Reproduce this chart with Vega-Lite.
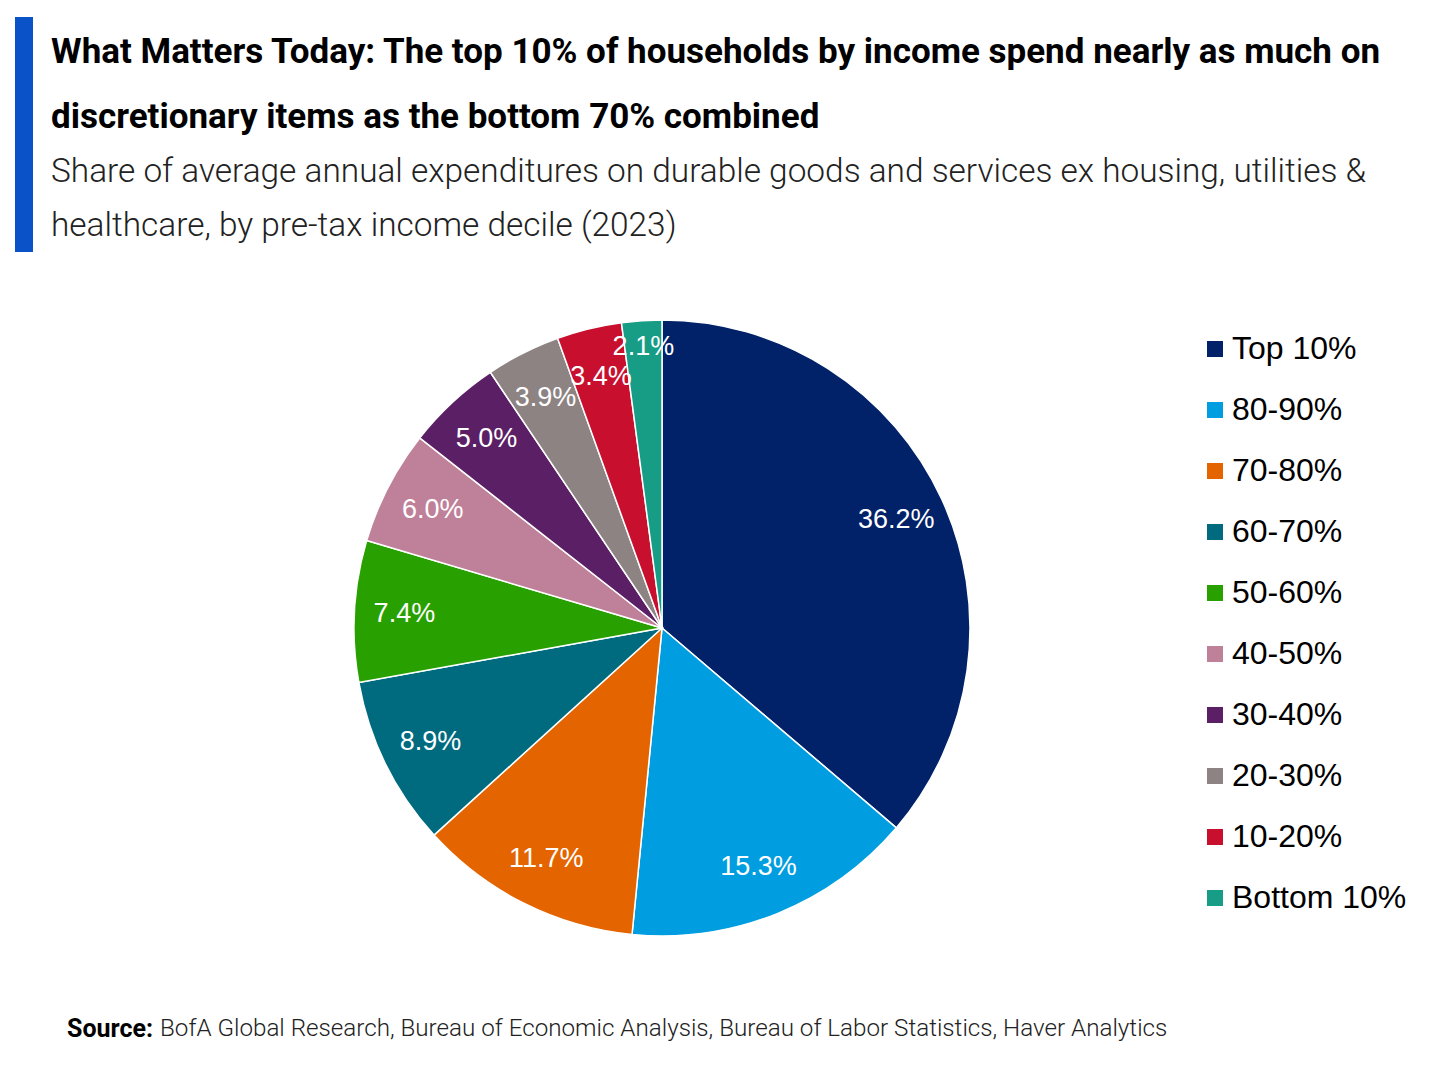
{
  "$schema": "https://vega.github.io/schema/vega-lite/v6.json",
  "background": "white",
  "padding": {"left": 15, "top": 11, "right": 0, "bottom": 0},
  "spacing": 0,
  "datasets": {
    "deciles": [
      {"decile": "Top 10%", "share": 0.362},
      {"decile": "80-90%", "share": 0.153},
      {"decile": "70-80%", "share": 0.117},
      {"decile": "60-70%", "share": 0.089},
      {"decile": "50-60%", "share": 0.074},
      {"decile": "40-50%", "share": 0.060},
      {"decile": "30-40%", "share": 0.050},
      {"decile": "20-30%", "share": 0.039},
      {"decile": "10-20%", "share": 0.034},
      {"decile": "Bottom 10%", "share": 0.021}
    ],
    "blank": [{"k": 1}]
  },
  "vconcat": [
    {
      "spacing": 18,
      "hconcat": [
        {
          "width": 18,
          "height": 235,
          "view": {"fill": "#0a52c8", "stroke": null},
          "data": {"name": "blank"},
          "mark": "text",
          "encoding": {"text": {"value": ""}}
        },
        {
          "width": 1340,
          "height": 1,
          "title": {
            "text": ["What Matters Today: The top 10% of households by income spend nearly as much on", "discretionary items as the bottom 70% combined"],
            "subtitle": ["Share of average annual expenditures on durable goods and services ex housing, utilities &", "healthcare, by pre-tax income decile (2023)"],
            "orient": "bottom",
            "anchor": "start",
            "font": "Roboto",
            "fontSize": 35,
            "fontWeight": "bold",
            "color": "#000000",
            "lineHeight": 65,
            "subtitleFont": "Roboto",
            "subtitleFontSize": 33.4,
            "subtitleFontWeight": 300,
            "subtitleColor": "#222222",
            "subtitleLineHeight": 54,
            "subtitlePadding": 21,
            "offset": 12
          },
          "data": {"name": "blank"},
          "mark": "text",
          "encoding": {"text": {"value": ""}}
        }
      ]
    },
    {
      "spacing": 12,
      "vconcat": [
        {
          "width": 1294,
          "height": 752,
          "data": {"name": "deciles"},
          "encoding": {
            "theta": {"field": "share", "type": "quantitative", "stack": true},
            "order": {"field": "share", "sort": "descending"},
            "color": {
              "field": "decile",
              "type": "nominal",
              "sort": null,
              "scale": {
                "domain": ["Top 10%", "80-90%", "70-80%", "60-70%", "50-60%", "40-50%", "30-40%", "20-30%", "10-20%", "Bottom 10%"],
                "range": ["#012169", "#009ee0", "#e46400", "#006a7f", "#28a000", "#bf8099", "#5b1f66", "#8d8383", "#c8102e", "#179c86"]
              },
              "legend": {
                "orient": "none",
                "legendX": 1184,
                "legendY": 316,
                "title": null,
                "symbolType": "square",
                "symbolSize": 256,
                "symbolStrokeWidth": 0,
                "labelFont": "Liberation Sans",
                "labelFontSize": 32,
                "labelColor": "#000000",
                "labelOffset": 1,
                "labelLimit": 0,
                "rowPadding": 29
              }
            }
          },
          "layer": [
            {
              "mark": {"type": "arc", "radius": 308, "stroke": "white", "strokeWidth": 1.5}
            },
            {
              "mark": {"type": "text", "radius": 258, "font": "Liberation Sans", "fontSize": 27, "fill": "white"},
              "encoding": {
                "text": {"field": "share", "type": "quantitative", "format": ".1%"},
                "color": {"value": "white"},
                "opacity": {"condition": {"test": "datum.share < 0.03", "value": 0}, "value": 1}
              }
            },
            {
              "mark": {"type": "text", "radius": 282, "font": "Liberation Sans", "fontSize": 27, "fill": "white"},
              "encoding": {
                "text": {"field": "share", "type": "quantitative", "format": ".1%"},
                "color": {"value": "white"},
                "opacity": {"condition": {"test": "datum.share < 0.03", "value": 1}, "value": 0}
              }
            }
          ]
        },
        {
          "spacing": 7,
          "hconcat": [
            {
              "width": 45,
              "height": 1,
              "data": {"name": "blank"},
              "mark": "text",
              "encoding": {"text": {"value": ""}}
            },
            {
              "width": 1,
              "height": 1,
              "title": {"text": "Source:", "anchor": "start", "font": "Roboto", "fontSize": 25, "fontWeight": "bold", "color": "#000000", "offset": 0},
              "data": {"name": "blank"},
              "mark": "text",
              "encoding": {"text": {"value": ""}}
            },
            {
              "width": 1,
              "height": 1,
              "title": {"text": "BofA Global Research, Bureau of Economic Analysis, Bureau of Labor Statistics, Haver Analytics", "anchor": "start", "font": "Roboto", "fontSize": 24.2, "fontWeight": 300, "color": "#222222", "offset": 0},
              "data": {"name": "blank"},
              "mark": "text",
              "encoding": {"text": {"value": ""}}
            }
          ]
        }
      ]
    }
  ],
  "config": {"view": {"stroke": null}}
}
